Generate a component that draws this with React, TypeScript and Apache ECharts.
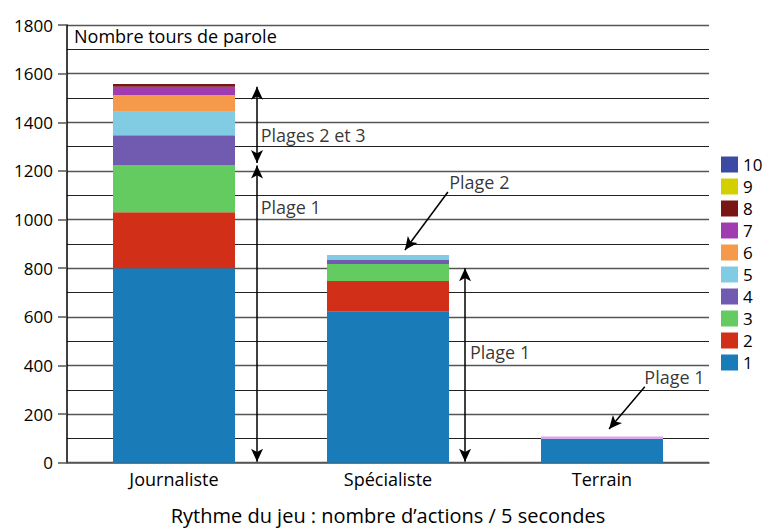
import React, { useEffect, useRef } from "react";
import * as echarts from "echarts";

const categories = ["Journaliste", "Spécialiste", "Terrain"];
const seriesNames = ["1", "2", "3", "4", "5", "6", "7", "8", "9", "10"];
const seriesColors = [
  "#1a7bb9", "#d12f17", "#63cb5f", "#715bb0", "#82cce3",
  "#f5994a", "#a03cb0", "#7a1515", "#d4d000", "#3b4ba3",
];
// values per series: [Journaliste, Spécialiste, Terrain]
const s1 = [800, 621, 97];
const s2 = [230, 126, 0];
const s3 = [194, 70, 0];
const s4 = [123, 19, 0];
const s5 = [96, 18, 0];
const s6 = [69, 0, 0];
const s7 = [34, 0, 11];
const s8 = [11, 0, 0];
const s9 = [0, 0, 0];
const s10 = [0, 0, 0];
const allSeries = [s1, s2, s3, s4, s5, s6, s7, s8, s9, s10];
const terrainThinColor = "#d6a8e8";

const yTickLabels = ["0", "200", "400", "600", "800", "1000", "1200", "1400", "1600", "1800"];
const yAxisTitle = "Nombre tours de parole";
const xAxisTitle = "Rythme du jeu : nombre d’actions / 5 secondes";

// annotations in (category position 0..3, value) space
const annotationLabels: [number, number, string][] = [
  [0.905, 1347, "Plages 2 et 3"],
  [0.905, 1051, "Plage 1"],
  [1.786, 1155, "Plage 2"],
  [1.883, 455, "Plage 1"],
  [2.698, 354, "Plage 1"],
];
const doubleArrows: [number, number, number][] = [
  [0.888, 1546, 1232],
  [0.888, 1222, 4],
  [1.86, 800, 4],
];
const pointerArrows: [number, number, number, number][] = [
  [1.78, 1113, 1.579, 875],
  [2.7, 312, 2.533, 139],
];

const FONT = "'Open Sans', sans-serif";

export default function App() {
  const ref = useRef<HTMLDivElement>(null);
  useEffect(() => {
    if (!ref.current) return;
    const chart = echarts.init(ref.current, undefined, { renderer: "svg" });
    const barSeries = allSeries.map((vals, i) => ({
      name: seriesNames[i],
      type: "bar",
      stack: "total",
      barWidth: "57%",
      xAxisIndex: 0,
      yAxisIndex: 0,
      itemStyle: { color: seriesColors[i] },
      data: vals.map((v, j) =>
        i === 6 && j === 2 ? { value: v, itemStyle: { color: terrainThinColor } } : v
      ),
    }));
    const markData: any[] = [];
    doubleArrows.forEach(([x, y1, y2]) => {
      markData.push([
        { coord: [x, y1], symbol: "arrow" },
        { coord: [x, y2], symbol: "arrow" },
      ]);
    });
    pointerArrows.forEach(([x1, y1, x2, y2]) => {
      markData.push([
        { coord: [x1, y1], symbol: "none" },
        { coord: [x2, y2], symbol: "arrow" },
      ]);
    });
    chart.setOption({
      animation: false,
      textStyle: { fontFamily: FONT },
      grid: { left: 67, right: 56, top: 25, bottom: 66.3, containLabel: false },
      legend: {
        data: [...seriesNames].reverse(),
        orient: "vertical",
        left: 721,
        top: 156,
        padding: 0,
        itemWidth: 17,
        itemHeight: 16,
        itemGap: 5,
        icon: "rect",
        selectedMode: false,
        textStyle: { fontSize: 17, color: "#000", fontFamily: FONT, padding: [0, 0, 0, 0] },
      },
      xAxis: [
        {
          type: "category",
          data: categories,
          axisLine: { lineStyle: { color: "#555", width: 1.5 } },
          axisTick: { show: false },
          axisLabel: { color: "#000", fontSize: 18, margin: 7, fontFamily: FONT },
        },
        { type: "value", min: 0, max: 3, show: false },
      ],
      yAxis: {
        type: "value",
        min: 0,
        max: 1800,
        interval: 200,
        axisLine: { show: true, lineStyle: { color: "#000", width: 1.5 } },
        axisTick: { show: true, length: 9, lineStyle: { color: "#555", width: 1.5 } },
        axisLabel: {
          color: "#000",
          fontSize: 17,
          margin: 14,
          fontFamily: FONT,
          formatter: (v: number) => yTickLabels[Math.round(v / 200)] ?? "",
        },
        splitLine: { show: true, lineStyle: { color: "#555", width: 1.3 } },
        minorTick: { show: false, splitNumber: 2 },
        minorSplitLine: { show: true, lineStyle: { color: "#222", width: 1 } },
      },
      series: [
        ...barSeries,
        {
          type: "scatter",
          xAxisIndex: 1,
          yAxisIndex: 0,
          symbolSize: 0,
          silent: true,
          data: annotationLabels,
          label: {
            show: true,
            position: "right",
            distance: 0,
            color: "#000",
            fontSize: 18,
            fontFamily: FONT,
            formatter: (p: any) => p.data[2],
          },
          markLine: {
            silent: true,
            symbol: ["arrow", "arrow"],
            symbolSize: [9, 13],
            label: { show: false },
            lineStyle: { color: "#000", width: 1.5, type: "solid" },
            emphasis: { disabled: true },
            data: markData,
          },
        },
      ],
      graphic: [
        {
          type: "text",
          left: 74,
          top: 27,
          style: { text: yAxisTitle, fontSize: 18, fill: "#000", fontFamily: FONT },
        },
        {
          type: "text",
          x: 388,
          y: 515,
          style: {
            text: xAxisTitle,
            fontSize: 20,
            fill: "#000",
            fontFamily: FONT,
            align: "center",
            verticalAlign: "middle",
          },
        },
      ],
    });
    return () => chart.dispose();
  }, []);
  return (
    <div
      ref={ref}
      style={{ position: "fixed", left: 0, top: 0, width: 765, height: 529, background: "#fff" }}
    />
  );
}
